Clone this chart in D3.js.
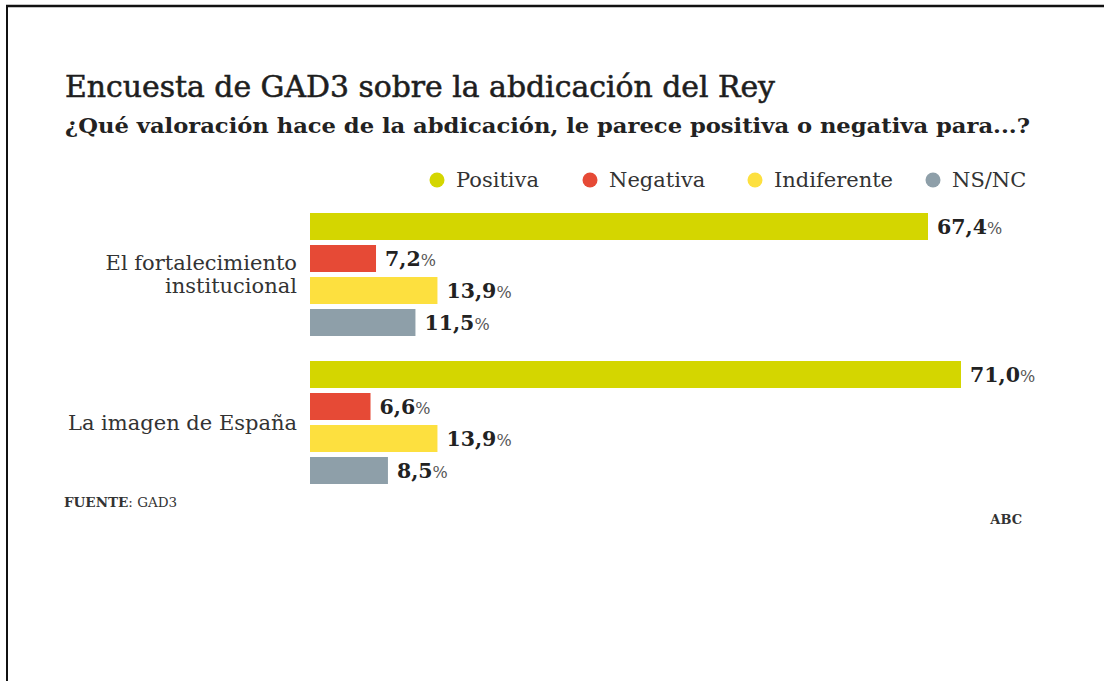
<!DOCTYPE html>
<html><head><meta charset="utf-8">
<script src="https://cdn.jsdelivr.net/npm/d3@7"></script>
<style>
html,body{margin:0;padding:0;background:#fff;}
svg{display:block;}
</style></head>
<body>
<svg id="chart" width="1104" height="681"></svg>
<script>
const categories = [["El fortalecimiento","institucional"],["La imagen de España"]];
const categoryKeys = ["El fortalecimiento institucional","La imagen de España"];
const seriesNames = ["Positiva","Negativa","Indiferente","NS/NC"];
const positiva = [67.4, 71.0];
const negativa = [7.2, 6.6];
const indiferente = [13.9, 13.9];
const nsnc = [11.5, 8.5];
const seriesValues = [positiva, negativa, indiferente, nsnc];
const colors = ["#d4d600","#e64a36","#fde03f","#8e9fa9"];
const title = "Encuesta de GAD3 sobre la abdicación del Rey";
const subtitle = "¿Qué valoración hace de la abdicación, le parece positiva o negativa para...?";
const source = "GAD3";

const svg = d3.select("#chart");
const serif = "'DejaVu Serif','Liberation Serif',serif";
const serifC = "'DejaVu Serif Condensed','DejaVu Serif',serif";

// frame lines
svg.append("line").attr("x1",6).attr("x2",1104).attr("y1",6).attr("y2",6).attr("stroke","#111").attr("stroke-width",2.5);
svg.append("line").attr("x1",7).attr("x2",7).attr("y1",5).attr("y2",681).attr("stroke","#111").attr("stroke-width",2);

svg.append("text").attr("x",65).attr("y",97).text(title)
  .attr("font-family",serifC).attr("font-size",29).attr("fill","#1e1e1e")
  .attr("stroke","#1e1e1e").attr("stroke-width",0.5)
  .attr("textLength",710).attr("lengthAdjust","spacingAndGlyphs");
svg.append("text").attr("x",65).attr("y",133).text(subtitle)
  .attr("font-family",serifC).attr("font-size",20).attr("font-weight","bold").attr("fill","#222")
  .attr("textLength",965).attr("lengthAdjust","spacingAndGlyphs");

// legend
const legendX = [437, 590, 755, 933];
const lg = svg.append("g").selectAll("g").data(seriesNames).join("g")
  .attr("transform",(d,i)=>`translate(${legendX[i]},180)`);
lg.append("circle").attr("r",7.5).attr("fill",(d,i)=>colors[i]);
lg.append("text").attr("x",19).attr("y",7).text(d=>d)
  .attr("font-family",serif).attr("font-size",21).attr("fill","#333");

const x = d3.scaleLinear().domain([0,71]).range([310,961]);
const y0 = d3.scaleBand().domain(categoryKeys).range([213,489]).paddingInner(20/148);
const y1 = d3.scaleBand().domain(seriesNames).range([0,123]).paddingInner(5/32);

const groups = svg.append("g").selectAll("g").data(categoryKeys).join("g")
  .attr("transform",d=>`translate(0,${y0(d)})`);

groups.each(function(cat, ci){
  const g = d3.select(this);
  seriesNames.forEach((s, si)=>{
    const v = seriesValues[si][ci];
    g.append("rect").attr("x",x(0)).attr("y",y1(s)).attr("width",x(v)-x(0)).attr("height",y1.bandwidth()).attr("fill",colors[si]);
    const t = g.append("text").attr("x",x(v)+9).attr("y",y1(s)+y1.bandwidth()/2+7)
      .attr("font-family",serif).attr("font-size",20.5).attr("fill","#222");
    t.append("tspan").attr("font-weight","bold").text(d3.format(".1f")(v).replace(".",","));
    t.append("tspan").attr("font-size",16).attr("fill","#555").text("%");
  });
  const lines = categories[ci];
  const mid = (y1.range()[0] + y1.range()[1]) / 2;
  const lt = g.append("text").attr("x",297).attr("text-anchor","end")
    .attr("font-family",serif).attr("font-size",21).attr("fill","#333");
  lines.forEach((l,li)=>{
    lt.append("tspan").attr("x",297).attr("y", mid + 7 + (li - (lines.length-1)/2)*23).text(l);
  });
});

const src = svg.append("text").attr("x",64).attr("y",507).attr("font-family",serif).attr("font-size",13.5).attr("fill","#333");
src.append("tspan").attr("font-weight","bold").text("FUENTE");
src.append("tspan").text(": " + source);
svg.append("text").attr("x",1022).attr("y",524).attr("text-anchor","end").attr("font-family",serif)
  .attr("font-size",13).attr("font-weight","bold").attr("fill","#333").text("ABC");
</script>
</body></html>
